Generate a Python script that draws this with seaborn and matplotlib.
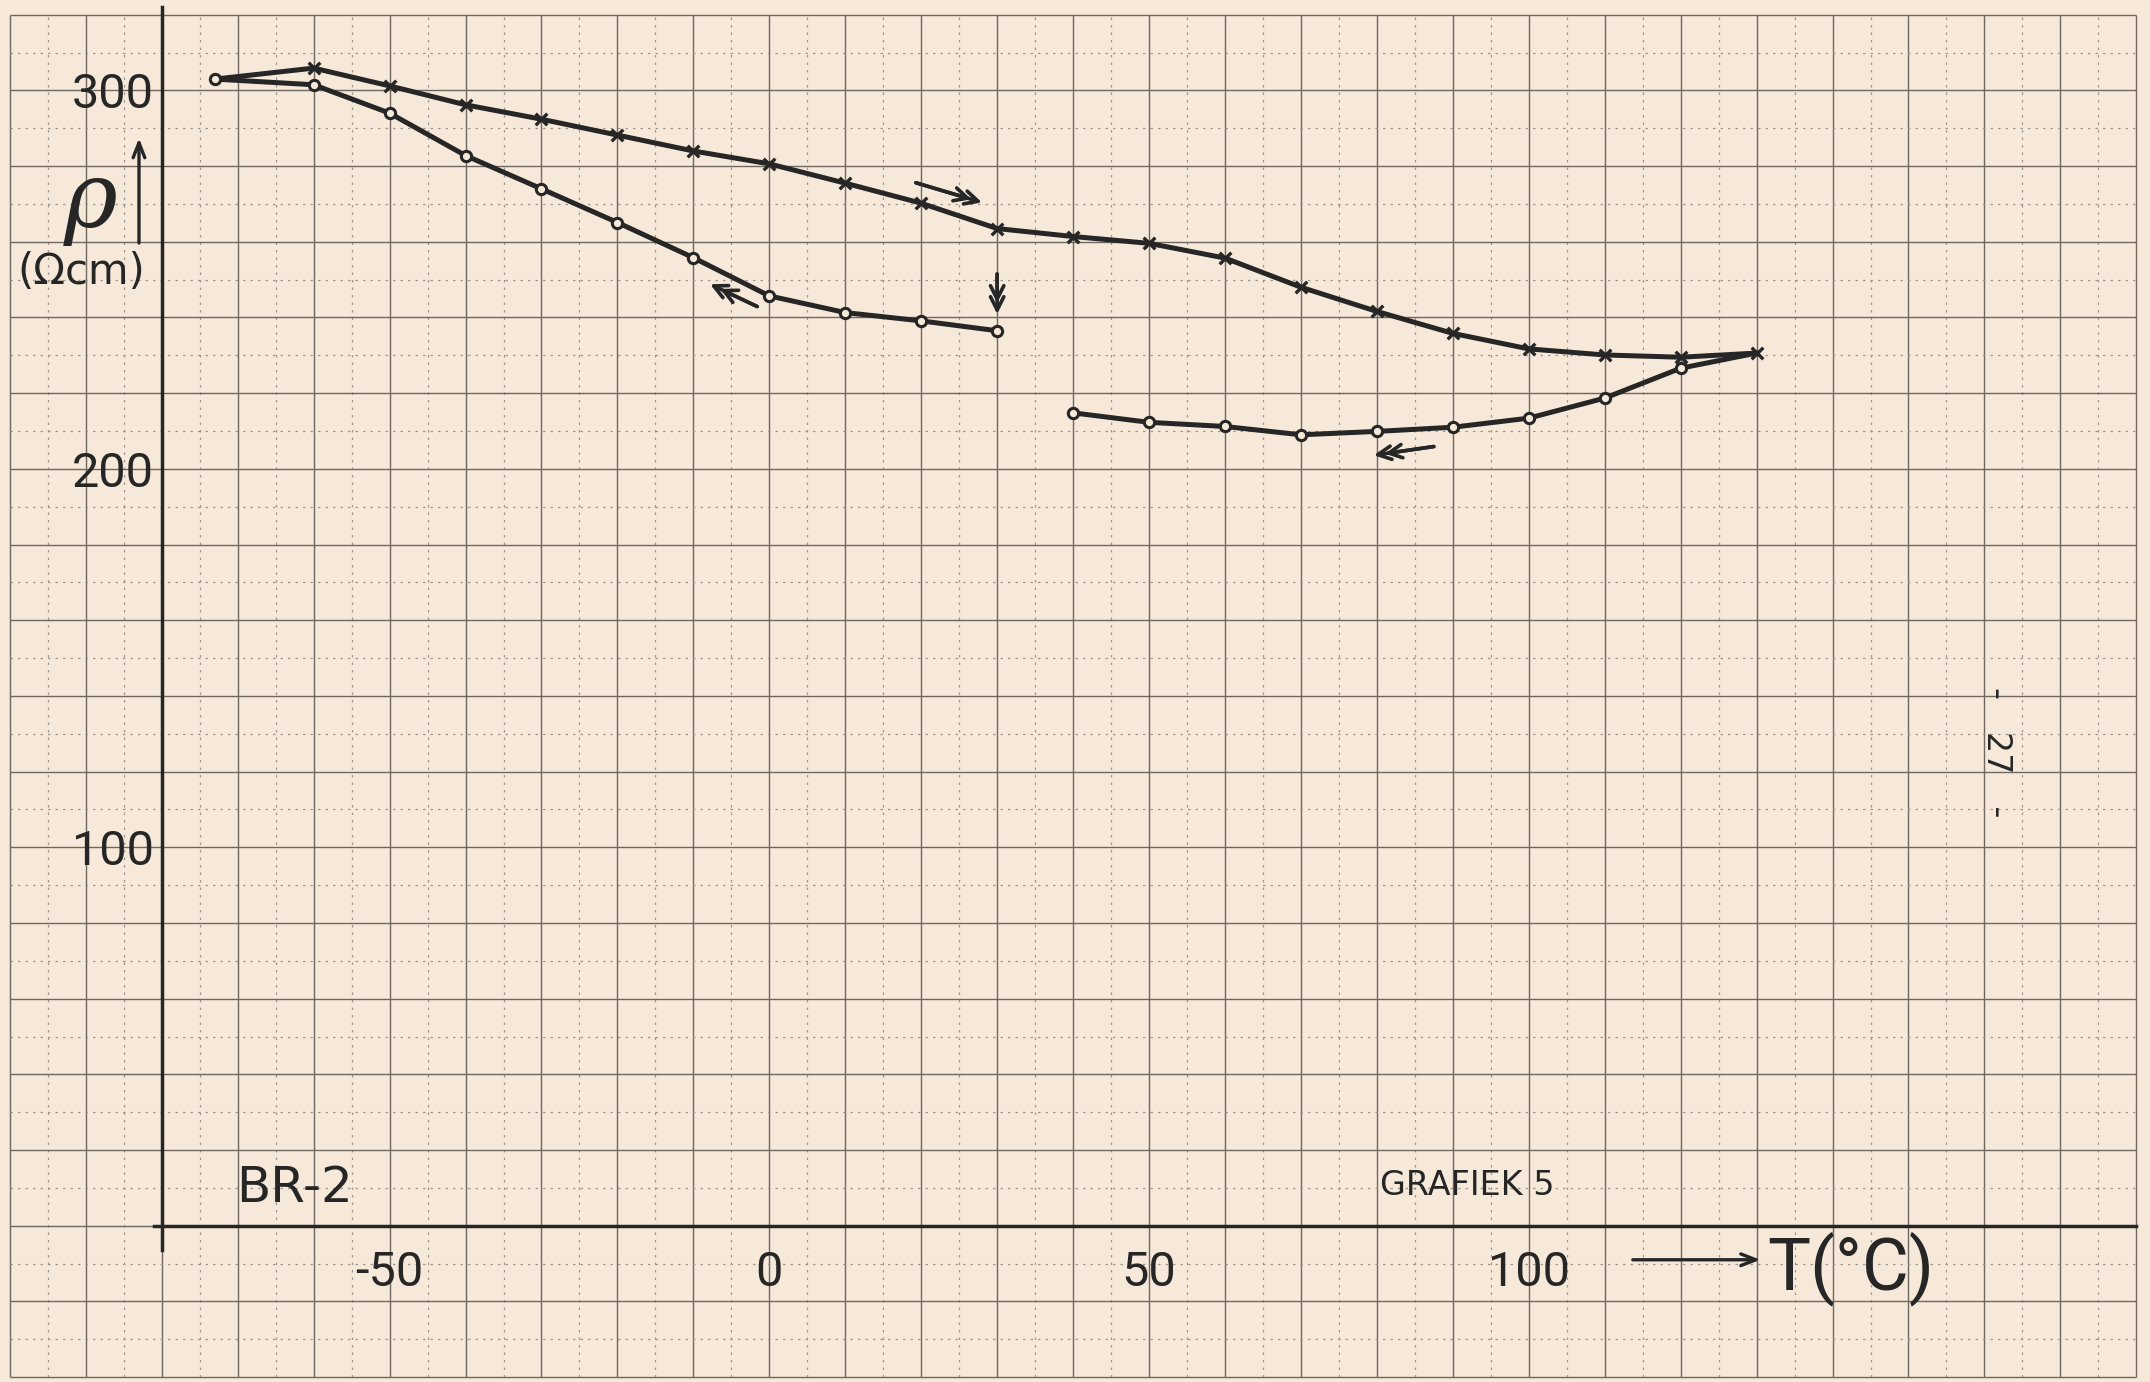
import numpy as np
import matplotlib
matplotlib.use("Agg")
import matplotlib.pyplot as plt
import seaborn as sns

# ---------------- data ----------------
# heating run (crosses), starts at the common point at -73 °C
heat_T = [-73, -60, -50, -40, -30, -20, -10, 0, 10, 20, 30, 40, 50, 60, 70, 80, 90, 100, 110, 120, 130]
heat_rho = [303.0, 305.9, 301.2, 296.2, 292.4, 288.2, 284.0, 280.6, 275.5, 270.2, 263.5,
            261.4, 259.6, 255.7, 248.0, 241.6, 235.8, 231.7, 230.1, 229.5, 230.6]

# first cooling run (circles), 30 °C down to -73 °C
cool1_T = [30, 20, 10, 0, -10, -20, -30, -40, -50, -60, -73]
cool1_rho = [236.5, 239.1, 241.3, 245.7, 255.8, 265.1, 274.0, 282.8, 294.0, 301.5, 303.0]

# second cooling run (circles), 130 °C down to 40 °C
cool2_T = [130, 120, 110, 100, 90, 80, 70, 60, 50, 40]
cool2_rho = [230.6, 226.6, 218.7, 213.4, 211.0, 209.9, 209.0, 211.2, 212.3, 214.8]

x_ticks = [-50, 0, 50, 100, 150]
x_tick_labels = ["-50", "0", "50", "100", ""]
y_ticks = [100, 200, 300]
y_tick_labels = ["100", "200", "300"]

# ---------------- style ----------------
PAPER = "#f7e9d9"
INK = "#262626"
GRID_MAJOR = "#6e6861"
GRID_MINOR = "#9d968d"

sns.set_theme(style="white")
plt.rcParams["font.family"] = ["DejaVu Sans"]
plt.rcParams["axes.unicode_minus"] = False

fig = plt.figure(figsize=(21.5, 13.82), dpi=100, facecolor=PAPER)
ax = fig.add_axes([0, 0, 1, 1])
ax.set_facecolor(PAPER)
ax.set_xlim(-101.3, 181.8)
ax.set_ylim(-41.3, 323.9)
ax.grid(False)

# graph paper
ax.vlines(np.arange(-100, 181, 10), -40, 320, colors=GRID_MAJOR, lw=1.0, zorder=0)
ax.vlines(np.arange(-95, 180, 10), -40, 320, colors=GRID_MINOR, lw=0.9,
          linestyles=(0, (2, 4)), zorder=0)
ax.hlines(np.arange(-40, 321, 20), -100, 180, colors=GRID_MAJOR, lw=1.0, zorder=0)
ax.hlines(np.arange(-30, 320, 20), -100, 180, colors=GRID_MINOR, lw=0.9,
          linestyles=(0, (2, 4)), zorder=0)

# axes (spines through the data origin)
for s in ("top", "right"):
    ax.spines[s].set_visible(False)
ax.spines["left"].set_position(("data", -80))
ax.spines["left"].set_bounds(-6.3, 322)
ax.spines["bottom"].set_position(("data", 0))
ax.spines["bottom"].set_bounds(-81, 180)
for s in ("left", "bottom"):
    ax.spines[s].set_color(INK)
    ax.spines[s].set_linewidth(2.5)
    ax.spines[s].set_zorder(2)

ax.set_xticks(x_ticks)
ax.set_xticklabels(x_tick_labels)
ax.set_yticks(y_ticks)
ax.set_yticklabels(y_tick_labels)
ax.tick_params(axis="both", direction="inout", length=5, width=3.5, color=INK,
               labelsize=35, labelcolor=INK)
ax.tick_params(axis="x", pad=15)
ax.tick_params(axis="y", pad=3)
for lab in ax.get_xticklabels() + ax.get_yticklabels():
    lab.set_fontfamily(["Roboto", "DejaVu Sans"])

# curves
for T, R in ((heat_T, heat_rho), (cool1_T, cool1_rho), (cool2_T, cool2_rho)):
    sns.lineplot(x=T, y=R, sort=False, estimator=None, color=INK, lw=3.6, ax=ax,
                 zorder=3, legend=False)

sns.scatterplot(x=heat_T[1:], y=heat_rho[1:], marker="x", s=70, color=INK,
                linewidth=2.4, ax=ax, zorder=4, legend=False)
sns.scatterplot(x=cool1_T, y=cool1_rho, marker="o", s=55, facecolor=PAPER,
                edgecolor=INK, linewidth=2.2, ax=ax, zorder=4, legend=False)
sns.scatterplot(x=cool2_T[1:], y=cool2_rho[1:], marker="o", s=55, facecolor=PAPER,
                edgecolor=INK, linewidth=2.2, ax=ax, zorder=4, legend=False)


def double_arrow(tail, tip, gap_px=11):
    t = ax.transData
    p0 = t.transform(tail)
    p1 = t.transform(tip)
    d = (p1 - p0) / np.hypot(*(p1 - p0))
    tip2 = t.inverted().transform(p1 - d * gap_px)
    for end in (tip, tip2):
        ax.annotate("", xy=end, xytext=tail,
                    arrowprops=dict(arrowstyle="->,head_length=0.8,head_width=0.4",
                                    lw=2.6, color=INK, shrinkA=0, shrinkB=0),
                    zorder=5)


double_arrow((19.3, 275.6), (28.0, 270.4))
double_arrow((30.0, 251.5), (30.0, 240.9))
double_arrow((-1.6, 242.9), (-7.8, 248.8))
double_arrow((87.5, 205.9), (79.6, 203.6))

# axis annotations
ax.annotate("", xy=(-83, 287.4), xytext=(-83, 259.7),
            arrowprops=dict(arrowstyle="->,head_length=0.9,head_width=0.35",
                            lw=2.4, color=INK, shrinkA=0, shrinkB=0))
ax.text(-89.4, 270.5, "ρ", fontsize=66, ha="center", va="center", color=INK,
        family=["DejaVu Serif"], fontstyle="italic")
ax.text(-90.6, 252.0, "(Ωcm)", fontsize=30, ha="center", va="center", color=INK)

ax.annotate("", xy=(130.5, -9.0), xytext=(113.7, -9.0),
            arrowprops=dict(arrowstyle="->,head_length=0.9,head_width=0.35",
                            lw=2.4, color=INK, shrinkA=0, shrinkB=0))
ax.text(131.4, -11.3, "T(°C)", fontsize=52, ha="left", va="center", color=INK,
        family=["Roboto", "DejaVu Sans"])

ax.text(-70.2, 10.0, "BR-2", fontsize=36, ha="left", va="center", color=INK)
ax.text(80.4, 10.6, "GRAFIEK 5", fontsize=24, ha="left", va="center", color=INK)
ax.text(161.6, 125.0, "-   27   -", fontsize=24, rotation=-90, ha="center",
        va="center", color=INK)

fig.savefig("out.png", dpi=100, facecolor=PAPER)
